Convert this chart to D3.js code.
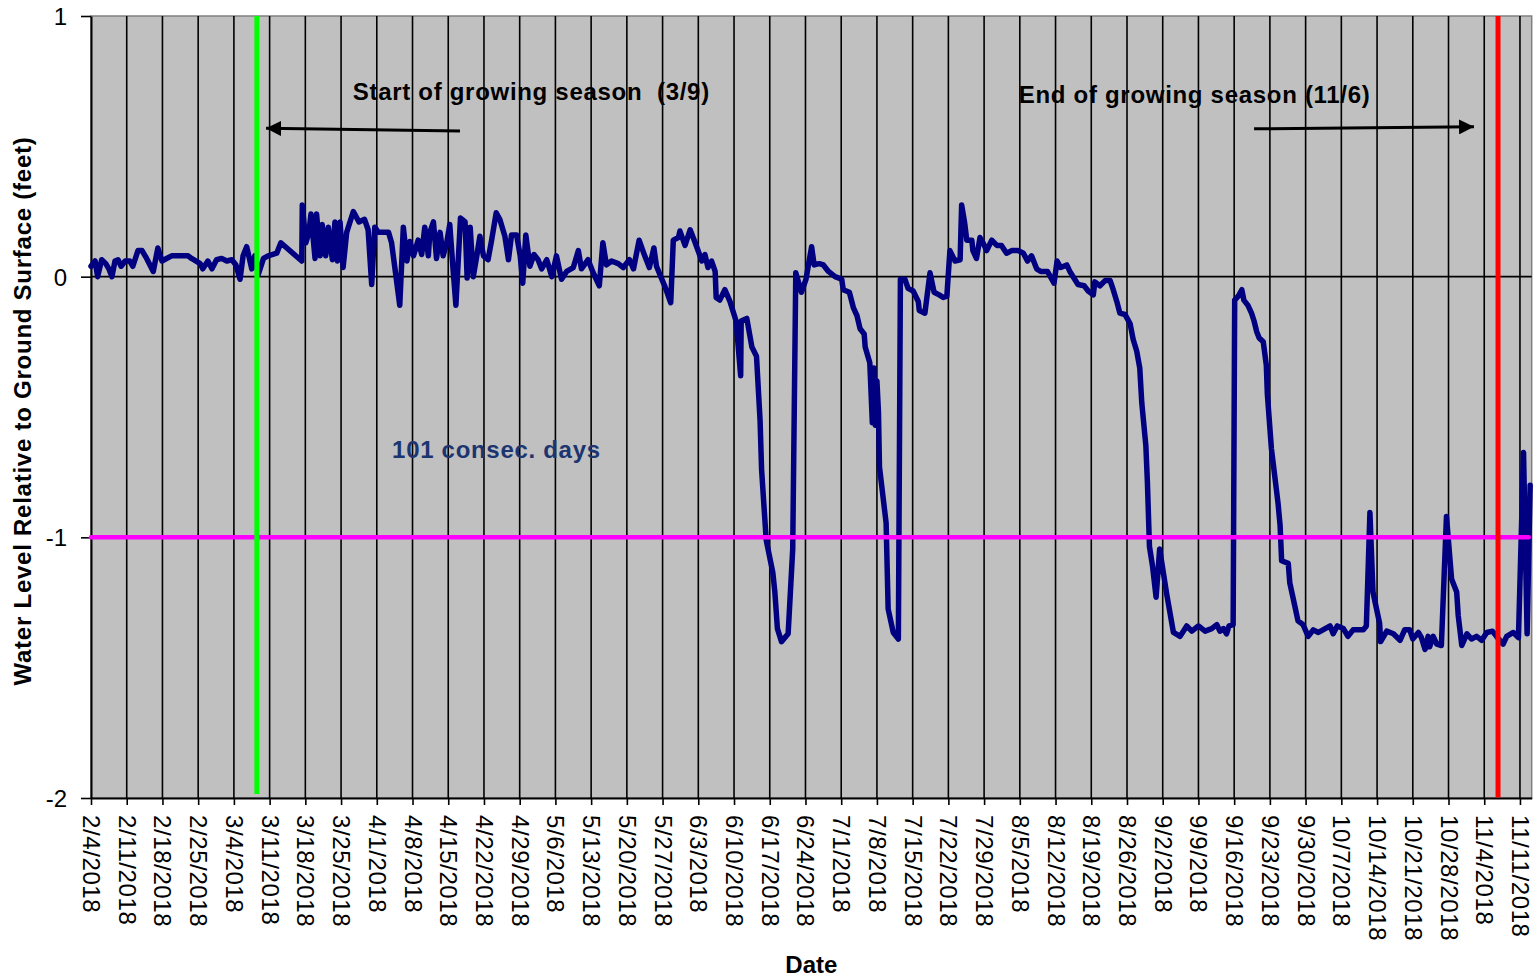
<!DOCTYPE html>
<html>
<head>
<meta charset="utf-8">
<script src="https://cdn.jsdelivr.net/npm/d3@7"></script>
<style>
  body { margin: 0; background: #fff; }
  text { font-family: Arial, "Liberation Sans", sans-serif; }
</style>
</head>
<body>
<svg id="chart"></svg>
<script>
// readings: [days since 2/4/2018, water level relative to ground (ft)]
const startDate = Date.UTC(2018, 1, 4);
const weekCount = 40;
const yTicks = [1, 0, -1, -2];
const readings = [
  [0.0, 0.04], [0.8, 0.06], [1.3, 0.0], [2.1, 0.065], [2.9, 0.05], [3.5, 0.03], [4.1, 0.0],
  [4.7, 0.06], [5.3, 0.065], [5.9, 0.04], [6.7, 0.06], [7.6, 0.06], [8.2, 0.04], [9.2, 0.10],
  [10.0, 0.10], [10.9, 0.07], [12.2, 0.02], [13.1, 0.11], [13.9, 0.06], [15.8, 0.08], [19.0, 0.08],
  [19.7, 0.07], [21.4, 0.05], [21.9, 0.03], [22.9, 0.06], [23.7, 0.03], [24.6, 0.065], [25.6, 0.07],
  [26.6, 0.06], [27.6, 0.065], [28.4, 0.045], [29.2, -0.01], [29.8, 0.08], [30.5, 0.115], [31.5, 0.03],
  [32.1, 0.08], [32.8, 0.01], [33.8, 0.07], [34.7, 0.08], [36.4, 0.09], [37.2, 0.13], [41.3, 0.06],
  [41.4, 0.275], [42.1, 0.13], [42.7, 0.17], [43.1, 0.24], [43.9, 0.07], [44.2, 0.24], [44.9, 0.08],
  [45.3, 0.20], [46.0, 0.08], [46.5, 0.19], [47.3, 0.065], [47.8, 0.21], [48.3, 0.06], [48.8, 0.21],
  [49.4, 0.035], [50.1, 0.17], [51.4, 0.25], [52.5, 0.21], [53.6, 0.22], [54.3, 0.18], [55.0, -0.03],
  [55.6, 0.19], [56.3, 0.17], [58.3, 0.17], [58.9, 0.13], [60.5, -0.11], [61.2, 0.19], [61.9, 0.06],
  [62.5, 0.135], [63.2, 0.08], [64.1, 0.14], [64.8, 0.085], [65.4, 0.19], [66.1, 0.08], [66.4, 0.17],
  [67.1, 0.21], [67.7, 0.07], [68.4, 0.17], [69.0, 0.08], [69.7, 0.13], [70.3, 0.20], [70.9, 0.04],
  [71.5, -0.11], [72.4, 0.225], [73.3, 0.21], [73.7, -0.005], [74.3, 0.19], [74.9, 0.0], [75.6, 0.08],
  [76.2, 0.155], [76.9, 0.08], [77.8, 0.065], [78.5, 0.14], [79.4, 0.245], [80.1, 0.22], [81.1, 0.155],
  [81.8, 0.065], [82.4, 0.16], [83.4, 0.16], [84.1, 0.08], [84.6, -0.025], [85.2, 0.16], [86.0, 0.04],
  [86.8, 0.085], [87.6, 0.065], [88.3, 0.03], [89.3, 0.065], [90.3, 0.0], [91.2, 0.08], [92.2, -0.01],
  [93.2, 0.02], [94.5, 0.035], [95.5, 0.10], [96.1, 0.03], [97.4, 0.065], [98.4, 0.015], [99.6, -0.035],
  [100.3, 0.13], [101.0, 0.045], [102.0, 0.06], [103.3, 0.05], [104.3, 0.035], [105.5, 0.065], [106.3, 0.03],
  [107.4, 0.14], [108.5, 0.08], [109.4, 0.035], [110.3, 0.11], [110.8, 0.04], [112.5, -0.04], [113.6, -0.10],
  [114.1, 0.14], [115.1, 0.15], [115.4, 0.175], [116.4, 0.12], [117.4, 0.18], [118.3, 0.135], [119.7, 0.06],
  [120.3, 0.085], [120.9, 0.035], [121.6, 0.06], [122.3, 0.02], [122.5, -0.08], [123.2, -0.09], [124.2, -0.05],
  [125.2, -0.095], [126.4, -0.17], [127.3, -0.38], [127.4, -0.17], [128.5, -0.16], [129.5, -0.27], [130.4, -0.305],
  [131.1, -0.55], [131.4, -0.74], [132.3, -1.01], [133.6, -1.135], [134.0, -1.21], [134.5, -1.35], [135.3, -1.40],
  [136.6, -1.37], [137.5, -1.045], [138.1, 0.015], [139.2, -0.06], [140.1, -0.01], [141.2, 0.115], [141.7, 0.045],
  [142.7, 0.05], [143.5, 0.045], [144.5, 0.02], [145.8, 0.0], [147.1, -0.01], [147.4, -0.05], [148.6, -0.06],
  [149.4, -0.12], [150.1, -0.15], [150.7, -0.20], [151.5, -0.22], [151.7, -0.27], [152.6, -0.33], [153.1, -0.56],
  [153.4, -0.35], [153.7, -0.57], [154.0, -0.40], [154.3, -0.52], [154.5, -0.73], [155.8, -0.945], [156.2, -1.275],
  [157.2, -1.365], [158.2, -1.39], [158.6, -0.01], [159.5, -0.01], [160.1, -0.045], [161.1, -0.055], [162.1, -0.095],
  [162.3, -0.13], [163.4, -0.14], [164.4, 0.015], [165.2, -0.06], [166.2, -0.07], [167.0, -0.08], [167.7, -0.075],
  [168.3, 0.10], [169.3, 0.06], [170.3, 0.065], [170.6, 0.275], [171.2, 0.205], [171.6, 0.14], [172.6, 0.14],
  [172.8, 0.10], [173.5, 0.07], [174.2, 0.15], [174.8, 0.13], [175.5, 0.10], [176.5, 0.14], [177.5, 0.12],
  [178.4, 0.12], [179.4, 0.09], [180.4, 0.10], [181.7, 0.10], [182.7, 0.09], [183.5, 0.06], [184.3, 0.08],
  [185.3, 0.03], [186.1, 0.02], [187.4, 0.02], [188.7, -0.025], [189.3, 0.06], [190.0, 0.035], [191.2, 0.045],
  [191.8, 0.02], [192.6, -0.005], [193.4, -0.03], [194.6, -0.035], [195.4, -0.055], [196.4, -0.07], [196.7, -0.02],
  [197.7, -0.035], [198.7, -0.015], [199.7, -0.015], [200.3, -0.05], [201.0, -0.095], [201.6, -0.14], [202.6, -0.145],
  [203.6, -0.18], [204.2, -0.24], [204.9, -0.285], [205.5, -0.35], [205.9, -0.485], [206.7, -0.65], [207.0, -0.79],
  [207.4, -1.035], [208.0, -1.11], [208.7, -1.23], [209.4, -1.045], [210.8, -1.22], [212.1, -1.365], [213.4, -1.38],
  [214.7, -1.34], [215.7, -1.36], [217.0, -1.34], [218.3, -1.36], [219.6, -1.35], [220.6, -1.335], [221.2, -1.36],
  [221.9, -1.35], [222.5, -1.37], [223.0, -1.34], [223.8, -1.335], [224.1, -0.09], [224.8, -0.075], [225.5, -0.05],
  [225.9, -0.09], [226.7, -0.11], [227.4, -0.14], [227.9, -0.17], [228.4, -0.21], [228.9, -0.235], [229.7, -0.25],
  [230.3, -0.34], [230.5, -0.45], [231.3, -0.66], [232.6, -0.87], [233.0, -0.955], [233.3, -1.09], [234.6, -1.10],
  [234.9, -1.175], [235.9, -1.265], [236.5, -1.32], [237.5, -1.335], [238.5, -1.38], [239.5, -1.355], [240.5, -1.365],
  [241.4, -1.355], [242.8, -1.34], [243.4, -1.37], [244.2, -1.34], [245.4, -1.35], [246.3, -1.38], [247.3, -1.355],
  [249.3, -1.355], [249.9, -1.34], [250.6, -0.905], [251.2, -1.21], [252.5, -1.33], [252.7, -1.40], [253.9, -1.36],
  [255.2, -1.37], [256.5, -1.395], [257.4, -1.355], [258.4, -1.355], [259.0, -1.39], [260.1, -1.365], [260.7, -1.385],
  [261.4, -1.43], [262.0, -1.38], [262.3, -1.42], [263.0, -1.38], [263.7, -1.41], [264.6, -1.415], [265.6, -0.92],
  [266.6, -1.16], [267.6, -1.21], [267.9, -1.30], [268.6, -1.415], [269.6, -1.37], [270.5, -1.39], [271.5, -1.38],
  [272.5, -1.395], [273.5, -1.365], [274.6, -1.36], [275.4, -1.38], [276.7, -1.41], [277.4, -1.38], [278.7, -1.365],
  [279.7, -1.385], [280.7, -0.675], [281.4, -1.37], [282.0, -0.80]
];
const thresholdLevel = -1;
const seasonStartDay = 32.5;   // green marker
const seasonEndDay = 275.7;    // red marker
const lastDay = 282.3;

const notes = [
  { text: "Start of growing season  (3/9)", day: 51.3, level: 0.678, color: "#000" },
  { text: "End of growing season (11/6)", day: 181.8, level: 0.667, color: "#000" },
  { text: "101 consec. days", day: 59.0, level: -0.697, color: "#1c3570" }
];
const arrows = [
  { from: [72.3, 0.559], to: [34.3, 0.569] },
  { from: [227.9, 0.567], to: [271.0, 0.575] }
];

const width = 1537, height = 978;
const margin = { top: 16, right: 5.3, bottom: 180, left: 91 };
const dayToDate = d => new Date(startDate + d * 864e5);

const svg = d3.select("#chart").attr("width", width).attr("height", height);

const x = d3.scaleUtc()
  .domain([dayToDate(0), dayToDate(lastDay)])
  .range([margin.left, width - margin.right]);
const y = d3.scaleLinear()
  .domain([-2, 1])
  .range([height - margin.bottom, margin.top]);

const weekTicks = d3.range(0, weekCount + 1).map(i => dayToDate(i * 7));

// plot background
svg.append("rect")
  .attr("x", margin.left).attr("y", margin.top)
  .attr("width", width - margin.right - margin.left)
  .attr("height", height - margin.bottom - margin.top)
  .attr("fill", "#c0c0c0")
  .attr("stroke", "#808080")
  .attr("stroke-width", 1.5);

// vertical grid at each week
svg.append("g").selectAll("line")
  .data(weekTicks.slice(1))
  .join("line")
  .attr("x1", d => x(d)).attr("x2", d => x(d))
  .attr("y1", margin.top).attr("y2", height - margin.bottom)
  .attr("stroke", "#000").attr("stroke-width", 1.6);

// zero line
svg.append("line")
  .attr("x1", margin.left).attr("x2", width - margin.right)
  .attr("y1", y(0)).attr("y2", y(0))
  .attr("stroke", "#000").attr("stroke-width", 1.6);

// axes
const xAxis = svg.append("g")
  .attr("transform", `translate(0, ${height - margin.bottom})`)
  .call(d3.axisBottom(x).tickValues(weekTicks).tickFormat(d3.utcFormat("%-m/%-d/%Y")).tickSize(7).tickSizeOuter(0));
xAxis.select(".domain").attr("stroke", "#000").attr("stroke-width", 2);
xAxis.selectAll(".tick line").attr("stroke", "#000").attr("stroke-width", 1.6);
xAxis.selectAll(".tick text")
  .attr("font-size", 24)
  .attr("letter-spacing", 0.6)
  .attr("fill", "#000")
  .attr("text-anchor", "start")
  .attr("dy", null)
  .attr("dominant-baseline", "central")
  .attr("transform", "translate(0, 17) rotate(90)")
  .attr("x", 0).attr("y", 0);

const yAxis = svg.append("g")
  .attr("transform", `translate(${margin.left}, 0)`)
  .call(d3.axisLeft(y).tickValues(yTicks).tickFormat(d => String(d)).tickSize(10).tickSizeOuter(0));
yAxis.select(".domain").attr("stroke", "#000").attr("stroke-width", 2);
yAxis.selectAll(".tick line").attr("stroke", "#000").attr("stroke-width", 1.6);
yAxis.selectAll(".tick text")
  .attr("font-size", 24)
  .attr("fill", "#000")
  .attr("x", -24)
  .attr("dy", "0.35em");

// water level series
const line = d3.line()
  .x(d => x(dayToDate(d[0])))
  .y(d => y(d[1]));
svg.append("path")
  .datum(readings)
  .attr("d", line)
  .attr("fill", "none")
  .attr("stroke", "#000080")
  .attr("stroke-width", 5.5)
  .attr("stroke-linejoin", "round")
  .attr("stroke-linecap", "round");

// threshold line
svg.append("line")
  .attr("x1", margin.left).attr("x2", width - margin.right - 3)
  .attr("y1", y(thresholdLevel)).attr("y2", y(thresholdLevel))
  .attr("stroke", "#ff00ff").attr("stroke-width", 4.5)
  .attr("stroke-linecap", "round");

// growing season markers
svg.append("line")
  .attr("x1", x(dayToDate(seasonStartDay))).attr("x2", x(dayToDate(seasonStartDay)))
  .attr("y1", margin.top).attr("y2", y(-1.985))
  .attr("stroke", "#00ff00").attr("stroke-width", 5);
svg.append("line")
  .attr("x1", x(dayToDate(seasonEndDay))).attr("x2", x(dayToDate(seasonEndDay)))
  .attr("y1", margin.top).attr("y2", y(-1.998))
  .attr("stroke", "#ff0000").attr("stroke-width", 5);

// arrows
svg.append("defs").append("marker")
  .attr("id", "head")
  .attr("viewBox", "0 0 10 10")
  .attr("refX", 10).attr("refY", 5)
  .attr("markerWidth", 5).attr("markerHeight", 5)
  .attr("markerUnits", "strokeWidth")
  .attr("orient", "auto")
  .append("path").attr("d", "M0,0 L10,5 L0,10 Z").attr("fill", "#000");

svg.append("g").selectAll("line")
  .data(arrows)
  .join("line")
  .attr("x1", d => x(dayToDate(d.from[0]))).attr("y1", d => y(d.from[1]))
  .attr("x2", d => x(dayToDate(d.to[0]))).attr("y2", d => y(d.to[1]))
  .attr("stroke", "#000").attr("stroke-width", 3)
  .attr("marker-end", "url(#head)");

// annotations
svg.append("g").selectAll("text")
  .data(notes)
  .join("text")
  .attr("x", d => x(dayToDate(d.day)))
  .attr("y", d => y(d.level))
  .attr("font-size", 24)
  .attr("font-weight", "bold")
  .attr("letter-spacing", 0.7)
  .attr("fill", d => d.color)
  .style("white-space", "pre")
  .text(d => d.text);

// axis titles
svg.append("text")
  .attr("x", (margin.left + width - margin.right) / 2)
  .attr("y", 973)
  .attr("text-anchor", "middle")
  .attr("font-size", 24)
  .attr("font-weight", "bold")
  .text("Date");

svg.append("text")
  .attr("transform", "translate(22, 411) rotate(-90)")
  .attr("text-anchor", "middle")
  .attr("dominant-baseline", "central")
  .attr("font-size", 24)
  .attr("font-weight", "bold")
  .attr("letter-spacing", 0.75)
  .text("Water Level Relative to Ground Surface (feet)");
</script>
</body>
</html>
